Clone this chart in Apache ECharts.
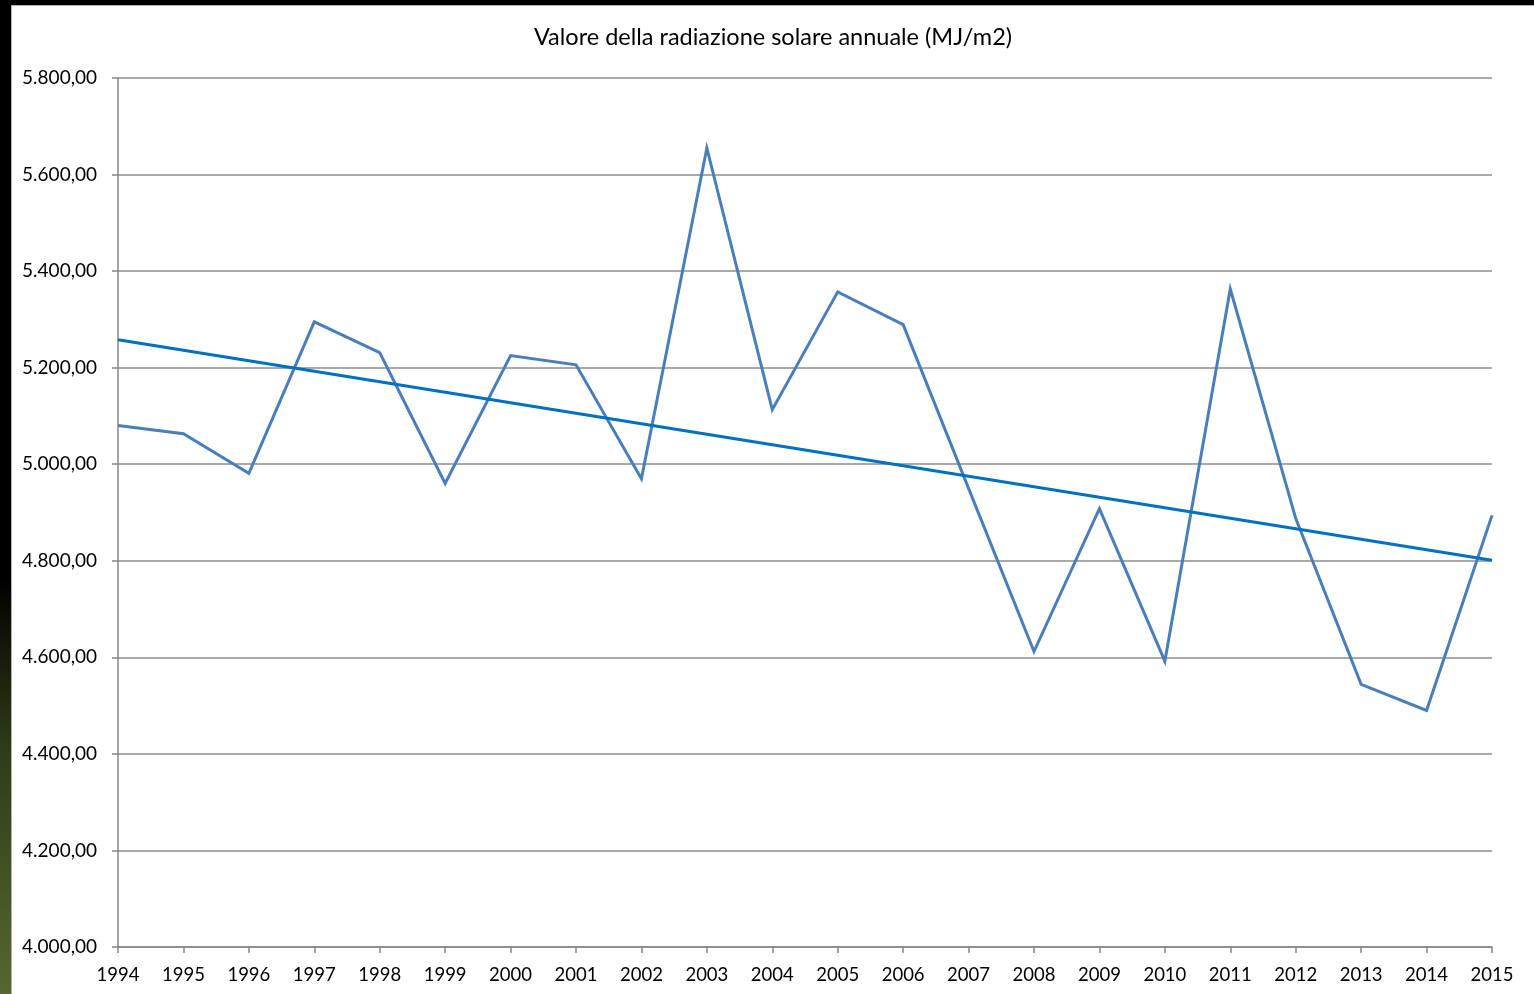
<!DOCTYPE html>
<html>
<head>
<meta charset="utf-8">
<script src="https://cdn.jsdelivr.net/npm/echarts@6/dist/echarts.min.js"></script>
<style>
  html, body { margin: 0; padding: 0; width: 1534px; height: 994px; overflow: hidden; background: #000; }
  #strip { position: absolute; left: 0; top: 0; width: 11px; height: 994px;
    background: linear-gradient(to bottom, #000 0%, #000 58%, #2f3a18 75%, #56682f 100%); }
  #chart { position: absolute; left: 11px; top: 5px; width: 1523px; height: 989px;
    background: #fff; box-sizing: border-box; border-left: 1px solid #b0b0b0; border-top: 1px solid #b0b0b0; }
</style>
</head>
<body>
<div id="strip"></div>
<div id="chart"></div>
<script>
const titleText = 'Valore della radiazione solare annuale (MJ/m2)';
const years = ['1994','1995','1996','1997','1998','1999','2000','2001','2002','2003','2004','2005','2006','2007','2008','2009','2010','2011','2012','2013','2014','2015'];
const radiation = [5080, 5063, 4981, 5295, 5231, 4960, 5225, 5206, 4970, 5655, 5113, 5357, 5289, 4950, 4612, 4908, 4592, 5363, 4888, 4544, 4490, 4894];
const trendYears = ['1994', '2015'];
const trendValues = [5258, 4801];
const yTicks = { min: 4000, max: 5800, interval: 200 };

function fmtIt(v) {
  const s = Math.round(v).toString();
  const withDots = s.replace(/\B(?=(\d{3})+(?!\d))/g, '.');
  return withDots + ',00';
}

const chart = echarts.init(document.getElementById('chart'), null, { renderer: 'canvas' });
const font = 'Lato, "Liberation Sans", sans-serif';
chart.setOption({
  animation: false,
  backgroundColor: '#fff',
  title: {
    text: titleText, left: 'center', top: 14,
    textStyle: { fontFamily: font, fontSize: 23.5, fontWeight: 'normal', color: '#000' }
  },
  grid: { left: 106, right: 42, top: 72, bottom: 47, containLabel: false },
  xAxis: {
    type: 'category', data: years, boundaryGap: false,
    axisLine: { lineStyle: { color: '#868686', width: 1.5 } },
    axisTick: { show: true, length: 6, alignWithLabel: true, lineStyle: { color: '#868686', width: 1.5 } },
    axisLabel: { fontFamily: font, fontSize: 18.5, color: '#000', margin: 19, interval: 0 },
    splitLine: { show: false }
  },
  yAxis: {
    type: 'value', min: yTicks.min, max: yTicks.max, interval: yTicks.interval,
    axisLine: { show: true, lineStyle: { color: '#868686', width: 1.5 } },
    axisTick: { show: true, length: 6, lineStyle: { color: '#868686', width: 1.5 } },
    axisLabel: { fontFamily: font, fontSize: 19, color: '#000', margin: 21, formatter: fmtIt },
    splitLine: { show: true, lineStyle: { color: '#8c8c8c', width: 1.5 } }
  },
  series: [
    {
      type: 'line', data: radiation, symbol: 'none',
      lineStyle: { color: '#4a7ebb', width: 3, join: 'miter' }, z: 3
    },
    {
      type: 'line', data: trendYears.map((y, i) => [y, trendValues[i]]), symbol: 'none',
      lineStyle: { color: '#0070c0', width: 3 }, z: 4
    }
  ]
});
</script>
</body>
</html>
